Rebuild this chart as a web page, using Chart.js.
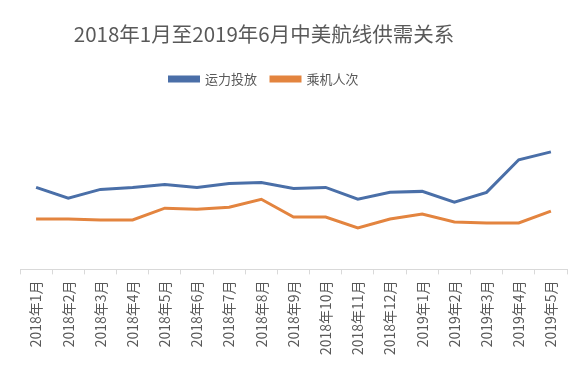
<!DOCTYPE html>
<html>
<head>
<meta charset="utf-8">
<script src="https://cdn.jsdelivr.net/npm/chart.js@4/dist/chart.umd.min.js"></script>
<style>
  html, body { margin: 0; padding: 0; background: #fff; }
  #wrap { width: 584px; height: 378px; }
</style>
</head>
<body>
<div id="wrap"><canvas id="chart"></canvas></div>
<script>
// Month labels on the x axis
const months = [
  "2018年1月", "2018年2月", "2018年3月", "2018年4月", "2018年5月", "2018年6月",
  "2018年7月", "2018年8月", "2018年9月", "2018年10月", "2018年11月", "2018年12月",
  "2019年1月", "2019年2月", "2019年3月", "2019年4月", "2019年5月"
];

// Values (relative units, no y axis shown)
const capacity = [83, 72, 81, 83, 86, 83, 87, 88, 82, 83, 71, 78, 79, 68, 78, 111, 119];
const passengers = [51, 51, 50, 50, 62, 61, 63, 71, 53, 53, 42, 51, 56, 48, 47, 47, 59];

const textColor = "#595959";
const fontFamily = "'Noto Sans CJK SC', 'Microsoft YaHei', sans-serif";

// Title and legend sit a bit left of the plot centre in the original
const shiftHeader = {
  id: "shiftHeader",
  afterLayout(chart) {
    [chart.titleBlock, chart.legend].forEach((box) => {
      if (!box) return;
      const dx = 264 - (box.left + box.right) / 2;
      box.left += dx;
      box.right += dx;
    });
  },
};

new Chart(document.getElementById("chart"), {
  type: "line",
  data: {
    labels: months,
    datasets: [
      {
        label: "运力投放",
        data: capacity,
        borderColor: "#4a6fa8",
        backgroundColor: "#4a6fa8",
        borderWidth: 3,
        pointRadius: 0,
        tension: 0,
      },
      {
        label: "乘机人次",
        data: passengers,
        borderColor: "#e3843f",
        backgroundColor: "#e3843f",
        borderWidth: 3,
        pointRadius: 0,
        tension: 0,
      },
    ],
  },
  options: {
    responsive: true,
    maintainAspectRatio: false,
    animation: false,
    layout: { padding: { left: 20, right: 17, top: 0, bottom: 17 } },
    plugins: {
      title: {
        display: true,
        text: "2018年1月至2019年6月中美航线供需关系",
        color: textColor,
        font: { family: fontFamily, size: 20.5, weight: "normal" },
        padding: { top: 22, bottom: 12 },
      },
      legend: {
        display: true,
        labels: {
          color: textColor,
          font: { family: fontFamily, size: 13 },
          boxWidth: 29,
          boxHeight: 4,
          padding: 14,
        },
      },
      tooltip: { enabled: false },
    },
    scales: {
      x: {
        offset: true,
        grid: {
          offset: true,
          drawOnChartArea: false,
          drawTicks: true,
          tickLength: 5,
          color: "#d9d9d9",
        },
        border: { color: "#d9d9d9" },
        ticks: {
          color: textColor,
          font: { family: fontFamily, size: 14 },
          maxRotation: 90,
          minRotation: 90,
          autoSkip: false,
          padding: 6,
        },
      },
      y: {
        display: false,
        min: 0,
        max: 176,
      },
    },
  },
  plugins: [shiftHeader],
});
</script>
</body>
</html>
